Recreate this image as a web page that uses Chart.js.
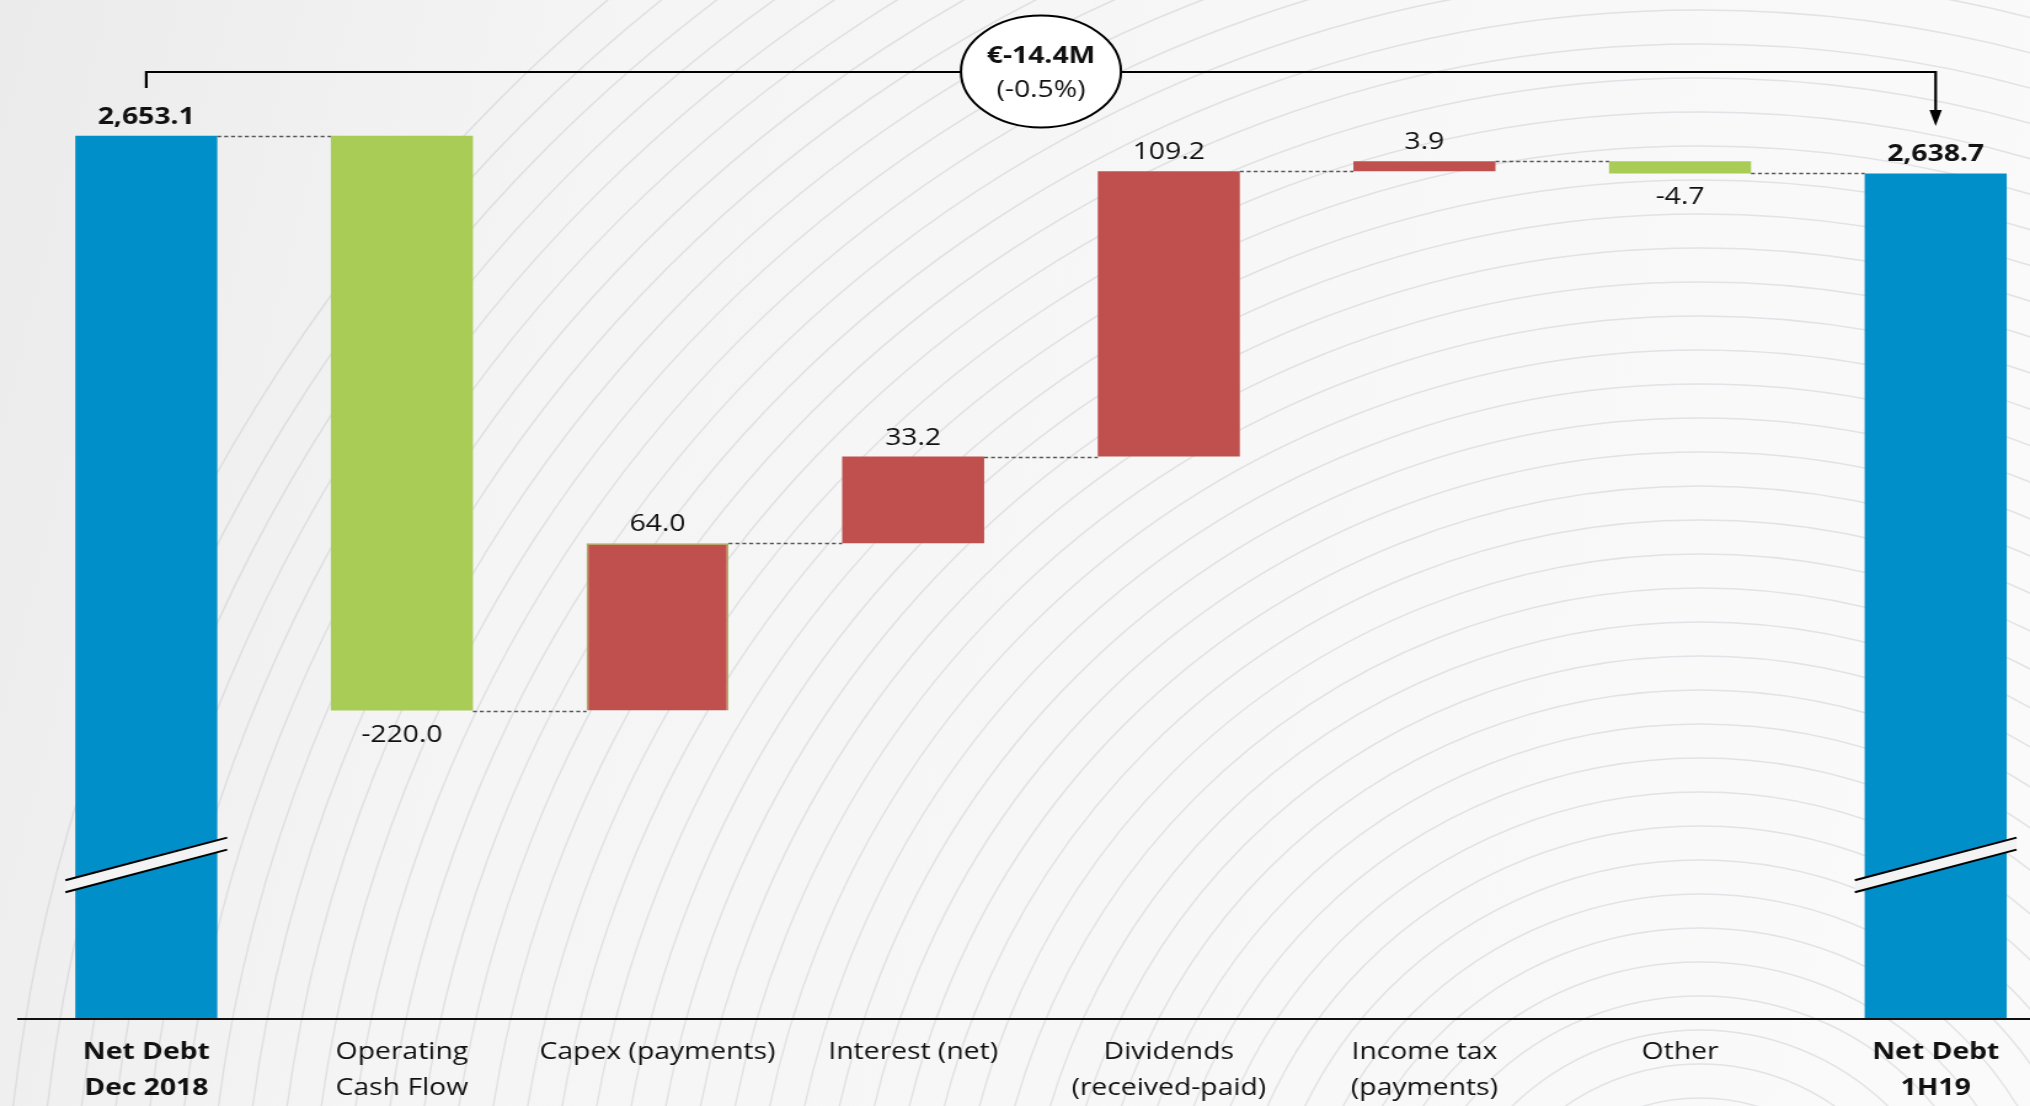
<!DOCTYPE html>
<html>
<head>
<meta charset="utf-8">
<title>Net debt bridge</title>
<script src="https://cdn.jsdelivr.net/npm/chart.js@4.4.1/dist/chart.umd.min.js"></script>
<style>
  html, body { margin: 0; padding: 0; overflow: hidden; background: #f5f5f5; }
</style>
</head>
<body>
<canvas id="myChart" width="1650" height="1106" style="display:block;width:2030px;height:1106px"></canvas>
<script>
// the canvas is drawn 1650 px wide and shown 2030 px wide (slide is stretched sideways)
const STRETCH = 2030 / 1650;
const FONT = "'Open Sans', 'Noto Sans', sans-serif";

const categories = [
  ["Net Debt", "Dec 2018"],
  ["Operating", "Cash Flow"],
  "Capex (payments)",
  "Interest (net)",
  ["Dividends", "(received-paid)"],
  ["Income tax", "(payments)"],
  "Other",
  ["Net Debt", "1H19"],
];
const openingDebt = 2653.1;
const movements = [-220.0, 64.0, 33.2, 109.2, 3.9, -4.7];
const closingDebt = 2638.7;

// value axis does not start at zero, the two totals get a break mark
const axisFloor = 2315;
const axisCeiling = 2705.1;
const breakAt = 2374;

const totalColor = "#008FC9";
const upColor = "#C0504D";
const downColor = "#A9CC57";

// floating [from, to] for every bar + running level after each bar
const bars = [[axisFloor, openingDebt]];
const levels = [openingDebt];
let level = openingDebt;
movements.forEach((m) => {
  const next = Math.round((level + m) * 10) / 10;
  bars.push([level, next]);
  levels.push(next);
  level = next;
});
bars.push([axisFloor, closingDebt]);
levels.push(closingDebt);

const labelValues = [openingDebt, ...movements, closingDebt];
const lastIdx = categories.length - 1;
const isTotal = (i) => i === 0 || i === lastIdx;

const fmtTotal = (v) =>
  v.toLocaleString("en-US", { minimumFractionDigits: 1, maximumFractionDigits: 1 });

// light background with contour lines
const backdrop = {
  id: "backdrop",
  beforeDraw(chart) {
    const { ctx, width, height } = chart;
    ctx.save();
    const g = ctx.createLinearGradient(0, 0, width, height * 0.3);
    g.addColorStop(0, "#EBEBEB");
    g.addColorStop(0.3, "#F5F5F5");
    g.addColorStop(1, "#FAFAFA");
    ctx.fillStyle = g;
    ctx.fillRect(0, 0, width, height);

    // circles are laid out in shown pixels
    ctx.scale(1 / STRETCH, 1);
    ctx.strokeStyle = "rgba(172, 175, 186, 0.3)";
    ctx.lineWidth = 1.6;
    for (let r = 100; r <= 1720; r += 34) {
      ctx.beginPath();
      ctx.arc(1700, 1300, r, 0, Math.PI * 2);
      ctx.stroke();
    }
    ctx.restore();
  },
};

// connectors, axis breaks and value labels
const waterfall = {
  id: "waterfall",
  afterDatasetsDraw(chart) {
    const { ctx } = chart;
    const yScale = chart.scales.y;
    const els = chart.getDatasetMeta(0).data;
    ctx.save();

    ctx.strokeStyle = "#555";
    ctx.lineWidth = 1.3;
    ctx.setLineDash([3.2, 2.4]);
    for (let i = 0; i < els.length - 1; i++) {
      const y = Math.round(yScale.getPixelForValue(levels[i])) + 0.5;
      ctx.beginPath();
      ctx.moveTo(els[i].x + els[i].width / 2, y);
      ctx.lineTo(els[i + 1].x - els[i + 1].width / 2, y);
      ctx.stroke();
    }
    ctx.setLineDash([]);

    const yb = yScale.getPixelForValue(breakAt);
    [0, lastIdx].forEach((i) => {
      const cx = els[i].x;
      const half = els[i].width / 2 + 8;
      const rise = half * 0.324;
      const gap = 6;
      ctx.beginPath();
      ctx.moveTo(cx - half, yb - gap + rise);
      ctx.lineTo(cx + half, yb - gap - rise);
      ctx.lineTo(cx + half, yb + gap - rise);
      ctx.lineTo(cx - half, yb + gap + rise);
      ctx.closePath();
      ctx.fillStyle = "#F3F3F3";
      ctx.fill();
      ctx.strokeStyle = "#000";
      ctx.lineWidth = 2;
      ctx.beginPath();
      ctx.moveTo(cx - half, yb - gap + rise);
      ctx.lineTo(cx + half, yb - gap - rise);
      ctx.moveTo(cx - half, yb + gap + rise);
      ctx.lineTo(cx + half, yb + gap - rise);
      ctx.stroke();
    });

    ctx.fillStyle = "#111";
    ctx.textAlign = "center";
    ctx.textBaseline = "alphabetic";
    labelValues.forEach((v, i) => {
      const el = els[i];
      const top = Math.min(el.y, el.base);
      const bottom = Math.max(el.y, el.base);
      ctx.font = (isTotal(i) ? "bold " : "") + "23px " + FONT;
      const text = isTotal(i) ? fmtTotal(v) : v.toFixed(1);
      if (v < 0) ctx.fillText(text, el.x, bottom + 31);
      else ctx.fillText(text, el.x, top - 12);
    });
    ctx.restore();
  },
};

// overall change bracket from first to last bar
const change = {
  id: "change",
  afterDraw(chart) {
    const { ctx } = chart;
    const els = chart.getDatasetMeta(0).data;
    const x1 = els[0].x;
    const x2 = els[lastIdx].x;
    const xm = (x1 + x2) / 2;
    const yLine = 72;
    ctx.save();
    ctx.strokeStyle = "#000";
    ctx.fillStyle = "#000";
    ctx.lineWidth = 2.2;
    ctx.beginPath();
    ctx.moveTo(x1, 88);
    ctx.lineTo(x1, yLine);
    ctx.lineTo(x2, yLine);
    ctx.lineTo(x2, 112);
    ctx.stroke();
    ctx.beginPath();
    ctx.moveTo(x2 - 5, 110);
    ctx.lineTo(x2 + 5, 110);
    ctx.lineTo(x2, 126);
    ctx.closePath();
    ctx.fill();

    ctx.beginPath();
    ctx.ellipse(xm, 71.5, 80 / STRETCH, 56, 0, 0, Math.PI * 2);
    ctx.fillStyle = "#FFF";
    ctx.fill();
    ctx.lineWidth = 2;
    ctx.stroke();

    const diff = Math.round((closingDebt - openingDebt) * 10) / 10;
    const pct = (diff / openingDebt) * 100;
    ctx.fillStyle = "#111";
    ctx.textAlign = "center";
    ctx.textBaseline = "alphabetic";
    ctx.font = "bold 23px " + FONT;
    ctx.fillText("€" + diff.toFixed(1) + "M", xm, 63);
    ctx.font = "23px " + FONT;
    ctx.fillText("(" + pct.toFixed(1) + "%)", xm, 97);
    ctx.restore();
  },
};

const mychart = document.getElementById("myChart");

new Chart(mychart, {
  type: "bar",
  data: {
    datasets: [
      {
        data: bars.map((b, i) => ({ x: i, y: b })),
        backgroundColor: bars.map((b, i) =>
          isTotal(i) ? totalColor : b[1] > b[0] ? upColor : downColor
        ),
        // thin olive outline the capex bar carries
        borderColor: bars.map((b, i) => (i === 2 ? "#A2B34C" : "rgba(0,0,0,0)")),
        borderWidth: bars.map((b, i) => (i === 2 ? 1.5 : 0)),
        categoryPercentage: 1,
        barPercentage: 0.5557,
      },
    ],
  },
  options: {
    responsive: false,
    animation: false,
    devicePixelRatio: 1,
    layout: { padding: { left: 15, right: 0, top: 0, bottom: 0 } },
    plugins: {
      legend: { display: false },
      tooltip: { enabled: false },
    },
    scales: {
      x: {
        type: "linear",
        offset: false,
        min: -0.5,
        max: 7.369,
        grid: { display: false, drawTicks: false },
        border: { display: true, color: "#111", width: 2, z: 1 },
        afterBuildTicks: (scale) => {
          scale.ticks = categories.map((_, i) => ({ value: i }));
        },
        afterFit: (scale) => {
          scale.height = 87;
        },
        ticks: {
          autoSkip: false,
          maxRotation: 0,
          padding: 16,
          color: "#111",
          font: (ctx) => ({
            family: FONT,
            size: 23,
            lineHeight: 1.56,
            weight: isTotal(ctx.index) ? "bold" : "normal",
          }),
          callback: (v) => categories[v],
        },
      },
      y: {
        display: false,
        min: axisFloor,
        max: axisCeiling,
      },
    },
  },
  plugins: [backdrop, waterfall, change],
});
</script>
</body>
</html>
